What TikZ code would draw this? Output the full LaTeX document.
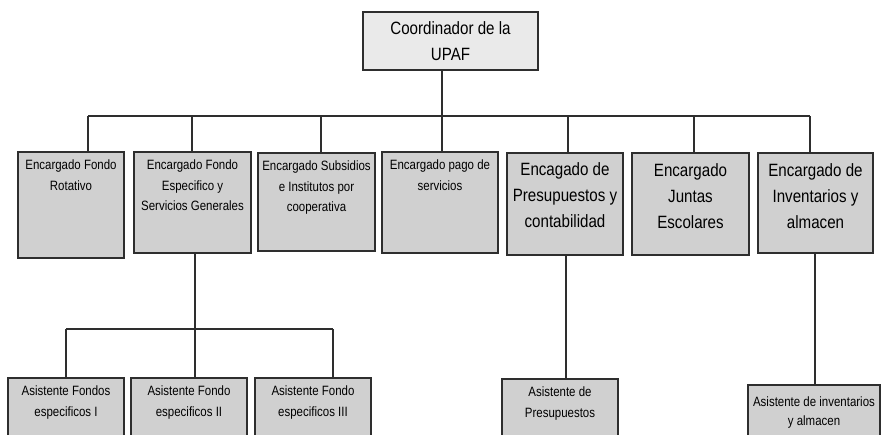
\documentclass[tikz,border=0pt]{standalone}
\usepackage{fontspec}
\setmainfont{Liberation Sans}[FakeStretch=0.85]
\usetikzlibrary{calc}
\definecolor{boxfill}{HTML}{D0D0D0}
\definecolor{topfill}{HTML}{EAEAEA}
\definecolor{edge}{HTML}{2E2E2E}
\newcommand{\txs}{\fontsize{13.5}{20.5}\selectfont}
\newcommand{\txl}{\fontsize{17.8}{26}\selectfont}
% width, height, top gap, text
\newcommand{\bx}[4]{\parbox[c][#2][t]{#1}{\centering\vspace*{#3}#4\par}}
\tikzset{
  box/.style={draw=edge, line width=1.4pt, fill=boxfill, inner sep=0pt, outer sep=0pt},
  link/.style={draw=edge, line width=1.2pt}
}
\begin{document}
\begin{tikzpicture}[x=1pt, y=-1pt]
\useasboundingbox (0,0) rectangle (881,434);
\clip (0,0) rectangle (881,434);
\fill[white] (0,0) rectangle (881,434);

% top
\node[box, fill=topfill, minimum width=175pt, minimum height=58pt, align=center, font=\txl] (top) at (450.5,41) {Coordinador de la\\UPAF};

% level 1
\node[box] (b1) at (71,205) {\bx{106pt}{106pt}{8pt}{\txs Encargado Fondo\\Rotativo}};
\node[box] (b2) at (192.5,202.5) {\bx{117pt}{101pt}{8pt}{\txs Encargado Fondo\\Especifico y\\Servicios Generales}};
\node[box] (b3) at (316.5,202) {\bx{117pt}{98pt}{8pt}{\txs Encargado Subsidios\\e Institutos por\\cooperativa}};
\node[box] (b4) at (440,202.5) {\bx{116pt}{101pt}{8pt}{\txs Encargado pago de\\servicios}};
\node[box] (b5) at (565,204) {\bx{116pt}{102pt}{10pt}{\txl Encagado de\\Presupuestos y\\contabilidad}};
\node[box] (b6) at (690.5,204) {\bx{117pt}{102pt}{11pt}{\txl Encargado\\Juntas\\Escolares}};
\node[box] (b7) at (815.5,203) {\bx{115pt}{100pt}{11pt}{\txl Encargado de\\Inventarios y\\almacen}};

% level 2
\node[box] (a1) at (66,413) {\bx{116pt}{70pt}{8pt}{\txs Asistente Fondos\\especificos I}};
\node[box] (a2) at (189,413) {\bx{116pt}{70pt}{8pt}{\txs Asistente Fondo\\especificos II}};
\node[box] (a3) at (313,413) {\bx{116pt}{70pt}{8pt}{\txs Asistente Fondo\\especificos III}};
\node[box] (a4) at (560,414) {\bx{116pt}{70pt}{8pt}{\txs Asistente de\\Presupuestos}};
\node[box] (a5) at (814,420) {\bx{132pt}{70pt}{12pt}{\fontsize{13.5}{19}\selectfont Asistente de inventarios\\y almacen}};

% bus level 1
\coordinate (bus1) at (0,116);
\coordinate (t1) at ([xshift=17pt]b1.north);
\coordinate (t2) at ([xshift=-0.5pt]b2.north);
\coordinate (t3) at ([xshift=4.5pt]b3.north);
\coordinate (t4) at ([xshift=2pt]b4.north);
\coordinate (t5) at ([xshift=3pt]b5.north);
\coordinate (t6) at ([xshift=3.5pt]b6.north);
\coordinate (t7) at ([xshift=-5.5pt]b7.north);
\draw[link] (t1 |- bus1) -- (t7 |- bus1);
\draw[link] (top.south -| t4) -- (t4 |- bus1);
\foreach \t in {t1,t2,t3,t4,t5,t6,t7}
  \draw[link] (\t) -- (\t |- bus1);

% level 2 from b2
\coordinate (bus2) at (0,329);
\coordinate (s2) at ([xshift=2.5pt]b2.south);
\coordinate (u2) at ([xshift=6pt]a2.north);
\coordinate (u3) at ([xshift=20pt]a3.north);
\draw[link] (s2) -- (s2 |- bus2);
\draw[link] (a1.north |- bus2) -- (u3 |- bus2);
\foreach \t in {a1.north,u2,u3}
  \draw[link] (\t) -- (\t |- bus2);

% b5 -> a4, b7 -> a5
\coordinate (u4) at ([xshift=6pt]a4.north);
\draw[link] (u4 |- b5.south) -- (u4);
\coordinate (u5) at ([xshift=1pt]a5.north);
\draw[link] (u5 |- b7.south) -- (u5);
\end{tikzpicture}
\end{document}
